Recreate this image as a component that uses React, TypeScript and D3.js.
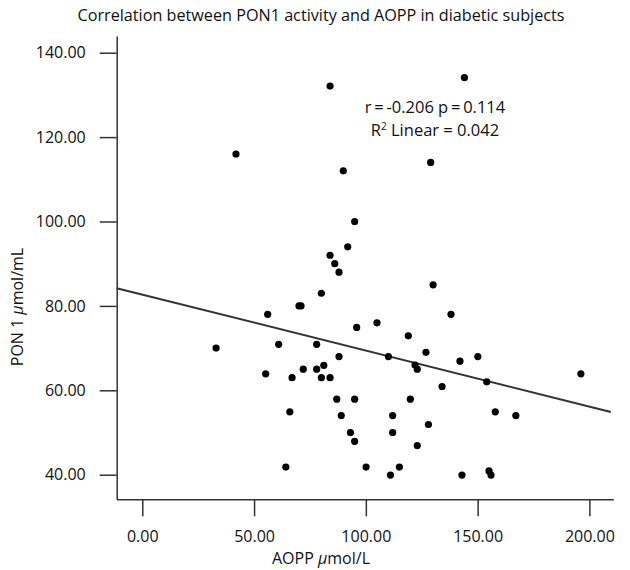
import { useEffect, useRef } from "react";
import * as d3 from "d3";

// AOPP (µmol/L) and PON1 (µmol/mL) per diabetic subject
const aopp = [
  84.0, 41.9, 89.9, 95.0, 91.9, 84.0, 86.1, 88.0, 144.1, 129.0,
  80.1, 56.1, 70.1, 71.0, 95.9, 33.0, 61.0, 78.0, 88.0, 55.2,
  72.0, 78.0, 81.2, 67.0, 80.1, 84.0, 87.0, 95.0, 89.0, 66.0,
  93.1, 95.0, 64.2, 130.1, 138.1, 105.0, 119.0, 110.1, 126.9, 122.0,
  123.0, 142.1, 150.1, 154.1, 134.1, 196.2, 119.9, 112.0, 157.9, 167.1,
  112.0, 128.0, 123.0, 100.1, 115.0, 111.0, 143.0, 155.1, 156.0,
];
const pon1 = [
  132.1, 116.0, 112.0, 100.0, 94.0, 92.0, 90.0, 88.0, 134.1, 114.0,
  83.0, 78.0, 80.0, 80.0, 74.9, 70.0, 70.9, 70.9, 68.0, 63.9,
  65.0, 65.0, 65.9, 63.0, 63.0, 63.0, 57.9, 57.9, 54.0, 54.9,
  50.0, 47.9, 41.8, 85.0, 78.0, 76.0, 72.9, 68.0, 69.0, 66.0,
  65.0, 66.9, 68.0, 62.0, 60.9, 63.9, 57.9, 54.0, 54.9, 54.0,
  50.0, 51.9, 46.9, 41.8, 41.8, 39.9, 39.9, 40.9, 39.9,
];

const xTicks = [0, 50, 100, 150, 200];
const yTicks = [40, 60, 80, 100, 120, 140];

// linear fit shown in the figure
const fitIntercept = 82.68;
const fitSlope = -0.1327;
const fitFrom = -11.45;
const fitTo = 209.6;

const title = "Correlation between PON1 activity and AOPP in diabetic subjects";
const statLine = "r\u2009=\u2009-0.206 p\u2009=\u20090.114";

export default function App() {
  const ref = useRef<SVGSVGElement>(null);

  useEffect(() => {
    document.body.style.margin = "0";
    const width = 630;
    const height = 570;
    const font = "'Open Sans', sans-serif";
    const ink = "#333";

    const svg = d3
      .select(ref.current)
      .attr("width", width)
      .attr("height", height)
      .attr("viewBox", `0 0 ${width} ${height}`)
      .style("font-family", font);

    svg.selectAll("*").remove();

    const x = d3.scaleLinear().domain([-11.45, 210.7]).range([116.7, 613.3]);
    const y = d3.scaleLinear().domain([34.17, 143.96]).range([499.3, 36]);

    const xAxis = svg
      .append("g")
      .attr("transform", `translate(0,${y.range()[0]})`)
      .call(
        d3
          .axisBottom(x)
          .tickValues(xTicks)
          .tickFormat(d3.format(".2f"))
          .tickSize(17)
          .tickSizeOuter(0)
          .tickPadding(14)
      );

    const yAxis = svg
      .append("g")
      .attr("transform", `translate(${x.range()[0]},0)`)
      .call(
        d3
          .axisLeft(y)
          .tickValues(yTicks)
          .tickFormat(d3.format(".2f"))
          .tickSize(17)
          .tickSizeOuter(0)
          .tickPadding(14)
      );

    [xAxis, yAxis].forEach(g => {
      g.select(".domain").attr("stroke", ink).attr("stroke-width", 1.5);
      g.selectAll(".tick line").attr("stroke", ink).attr("stroke-width", 1.5);
      g.selectAll(".tick text")
        .attr("fill", "#111")
        .style("font-size", "16px")
        .style("font-family", font);
    });

    const fit = d3
      .line<number>()
      .x(d => x(d))
      .y(d => y(fitIntercept + fitSlope * d));

    svg
      .append("path")
      .datum([fitFrom, fitTo])
      .attr("fill", "none")
      .attr("stroke", ink)
      .attr("stroke-width", 2)
      .attr("d", fit);

    svg
      .append("g")
      .selectAll("circle")
      .data(aopp)
      .join("circle")
      .attr("cx", d => x(d))
      .attr("cy", (_, i) => y(pon1[i]))
      .attr("r", 3.6)
      .attr("fill", "#000");

    svg
      .append("text")
      .attr("x", 321)
      .attr("y", 21)
      .attr("text-anchor", "middle")
      .attr("fill", "#111")
      .style("font-size", "16.2px")
      .text(title);

    const stats = svg
      .append("g")
      .attr("text-anchor", "middle")
      .attr("fill", "#111")
      .style("font-size", "16.5px");

    stats.append("text").attr("x", 435).attr("y", 113).text(statLine);

    const r2 = stats.append("text").attr("x", 435).attr("y", 136);
    r2.append("tspan").text("R");
    r2.append("tspan").attr("dy", -6).style("font-size", "10px").text("2");
    r2.append("tspan").attr("dy", 6).text(" Linear = 0.042");

    const xl = svg
      .append("text")
      .attr("x", 321)
      .attr("y", 564)
      .attr("text-anchor", "middle")
      .attr("fill", "#111")
      .style("font-size", "16px");
    xl.append("tspan").text("AOPP ");
    xl.append("tspan").style("font-style", "italic").text("\u00b5");
    xl.append("tspan").text("mol/L");

    const yl = svg
      .append("text")
      .attr("transform", "translate(23,307) rotate(-90)")
      .attr("text-anchor", "middle")
      .attr("fill", "#111")
      .style("font-size", "16px");
    yl.append("tspan").text("PON 1 ");
    yl.append("tspan").style("font-style", "italic").text("\u00b5");
    yl.append("tspan").text("mol/mL");
  }, []);

  return <svg ref={ref} style={{ display: "block" }} />;
}
